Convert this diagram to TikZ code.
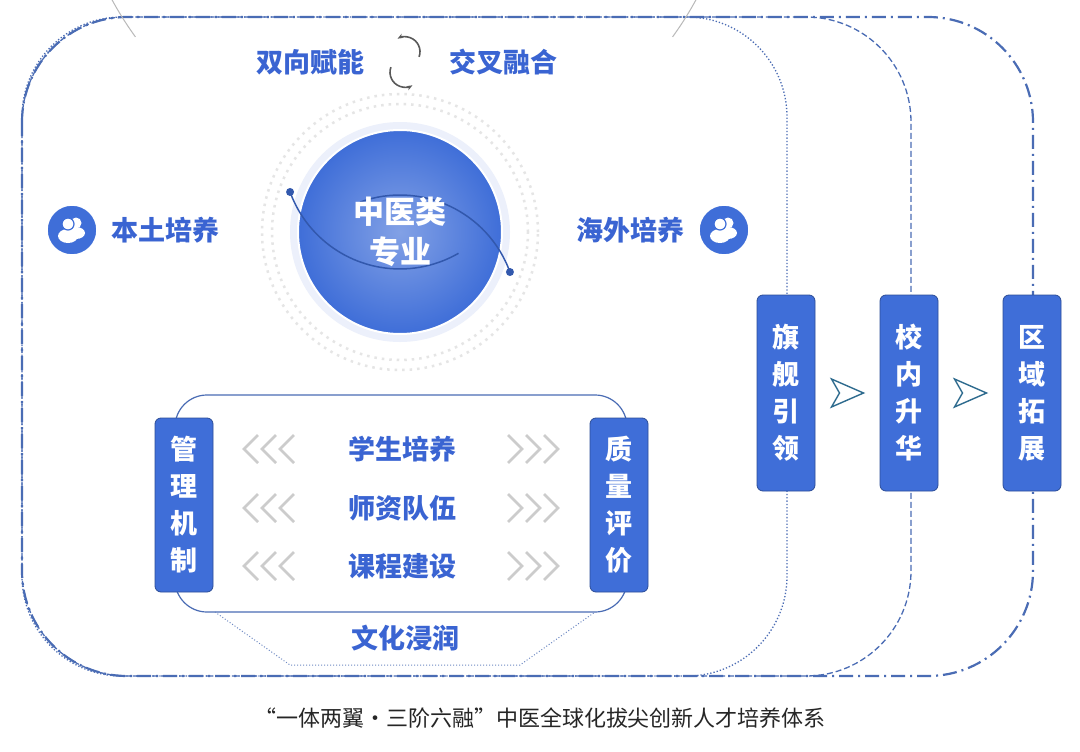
\documentclass[tikz,border=0pt]{standalone}
\usepackage{fontspec}
\newfontfamily\cjk{Noto Sans CJK SC}
\usetikzlibrary{positioning,shapes.geometric,arrows.meta,calc}
\definecolor{mainblue}{HTML}{3F6ED8}
\definecolor{textblue}{HTML}{3A64D2}
\definecolor{framblue}{HTML}{4A6CB4}
\definecolor{arrteal}{HTML}{2E6B8E}
\tikzset{
  frame/.style={framblue, line width=2.2pt, rounded corners=100pt},
  vbox/.style={rectangle, rounded corners=6pt, fill=mainblue, draw=mainblue!70!black, line width=0.8pt,
    minimum width=58pt, text=white, font=\cjk\bfseries\fontsize{27}{37}\selectfont, align=center},
  bluetext/.style={text=textblue, font=\cjk\bfseries\fontsize{27}{32}\selectfont},
  icon/.style={circle, minimum size=50pt, inner sep=0pt, fill=mainblue, draw=white, line width=1.5pt},
  chev/.style={gray!40, line width=2.6pt, line join=miter},
  stagearrow/.style={draw=arrteal, fill=white, line width=1.4pt, line join=miter}
}
\newcommand\people[1]{%
  \fill[white] ($(#1)+(4,-7)$) circle (5.5pt);
  \fill[white] ($(#1)+(4,3)$) ellipse (9pt and 6pt);
  \fill[white] ($(#1)+(-4,-6)$) circle (6pt);
  \fill[white] ($(#1)+(-4,6)$) ellipse (10pt and 7pt);
  \draw[mainblue, line width=1.2pt] ($(#1)+(-4,-6)$) circle (6pt);
}
\begin{document}
\begin{tikzpicture}[x=1pt, y=-1pt]
\useasboundingbox (0,0) rectangle (1080,752);
\fill[white] (0,0) rectangle (1080,752);

% three stage frames
\draw[frame, dash pattern=on 14pt off 5pt on 2pt off 5pt, rounded corners=105pt] (22,17) rectangle (1033,676);
\draw[frame, line width=1.3pt, dash pattern=on 6pt off 3pt, rounded corners=105pt] (22,17) rectangle (911,676);
\draw[frame, line width=1.3pt, dotted, rounded corners=100pt] (22,17) rectangle (787,676);

% big thin circle
\coordinate (O) at (404,232);
\draw[gray!55, line width=1pt] (O) ++(-144:332) arc[start angle=-144, end angle=-230, radius=332pt];
\draw[gray!55, line width=1pt] (O) ++(-36:332) arc[start angle=-36, end angle=50, radius=332pt];

% core circle
\coordinate (C) at (400,232);
\foreach \r in {128,138} \draw[gray!20, line width=2.5pt, dash pattern=on 2.5pt off 5pt] (C) circle (\r pt);
\fill[mainblue!10] (C) circle (110pt);
\shade[inner color=mainblue!65, outer color=mainblue] (C) circle (102pt);
\draw[white, line width=2pt] (C) circle (102pt);
\draw[mainblue!80!black, line width=1.5pt] (C) ++(-160:117) arc[start angle=-160, end angle=-60, radius=117pt];
\draw[mainblue!80!black, line width=1.5pt] (C) ++(20:117) arc[start angle=20, end angle=110, radius=117pt];
\fill[mainblue!80!black] (C) ++(-160:117) circle (4pt);
\fill[mainblue!80!black] (C) ++(20:117) circle (4pt);
\node[text=white, font=\cjk\bfseries\fontsize{31}{40}\selectfont, align=center] (core) at (C) {中医类\\专业};

% top labels
\node[bluetext] (fuN) at (310,62) {双向赋能};
\node[bluetext] (jiaoc) at (503,62) {交叉融合};
\coordinate (cyc) at (405,62);
\draw[gray!70!black, line width=1.6pt, -{Stealth[length=6pt]}] (cyc) ++(-200:15) arc[start angle=-200, end angle=-60, radius=15pt];
\draw[gray!70!black, line width=1.6pt, -{Stealth[length=6pt]}] (cyc) ++(-20:15) arc[start angle=-20, end angle=120, radius=15pt];

% two wings
\node[icon] (iconL) at (72,230) {};
\people{iconL}
\node[bluetext, right=10pt of iconL] (bentu) {本土培养};
\node[icon] (iconR) at (724,230) {};
\people{iconR}
\node[bluetext, left=10pt of iconR] (haiwai) {海外培养};

% lower box
\draw[framblue, line width=1.2pt, rounded corners=32pt] (175,395) rectangle (627,612);
\draw[framblue!80, line width=1pt, dotted] (215,612) -- (290,665) -- (520,665) -- (595,612);
\node[bluetext] (wenhua) at (405,638) {文化浸润};
\node[vbox, minimum height=174pt] (guanli) at (184,505) {管\\理\\机\\制};
\node[vbox, minimum height=174pt] (zhiliang) at (619,505) {质\\量\\评\\价};
\foreach \t/\y/\n in {学生培养/449/xs, 师资队伍/508/sz, 课程建设/566/kc}{
  \node[bluetext] (\n) at (402,\y) {\t};
  \foreach \x in {244,262,280}
    \draw[chev] (\x+14,\y-14) -- (\x,\y) -- (\x+14,\y+14);
  \foreach \x in {508,526,544}
    \draw[chev] (\x,\y-14) -- (\x+14,\y) -- (\x,\y+14);
}

% three stages
\node[vbox, minimum height=196pt] (qijian) at (786,393) {旗\\舰\\引\\领};
\node[vbox, minimum height=196pt] (xiaonei) at (909,393) {校\\内\\升\\华};
\node[vbox, minimum height=196pt] (quyu) at (1032,393) {区\\域\\拓\\展};
\foreach \a/\b in {qijian/xiaonei, xiaonei/quyu}{
  \coordinate (m) at ($(\a.east)!0.5!(\b.west)$);
  \draw[stagearrow] ($(m)+(-16,-14)$) -- ($(m)+(16,0)$) -- ($(m)+(-16,14)$) -- ($(m)+(-8,0)$) -- cycle;
}

% caption
\node[font=\cjk\fontsize{22}{26}\selectfont, text=black!85] (cap) at (540,718) {“一体两翼·三阶六融”中医全球化拔尖创新人才培养体系};
\end{tikzpicture}
\end{document}
